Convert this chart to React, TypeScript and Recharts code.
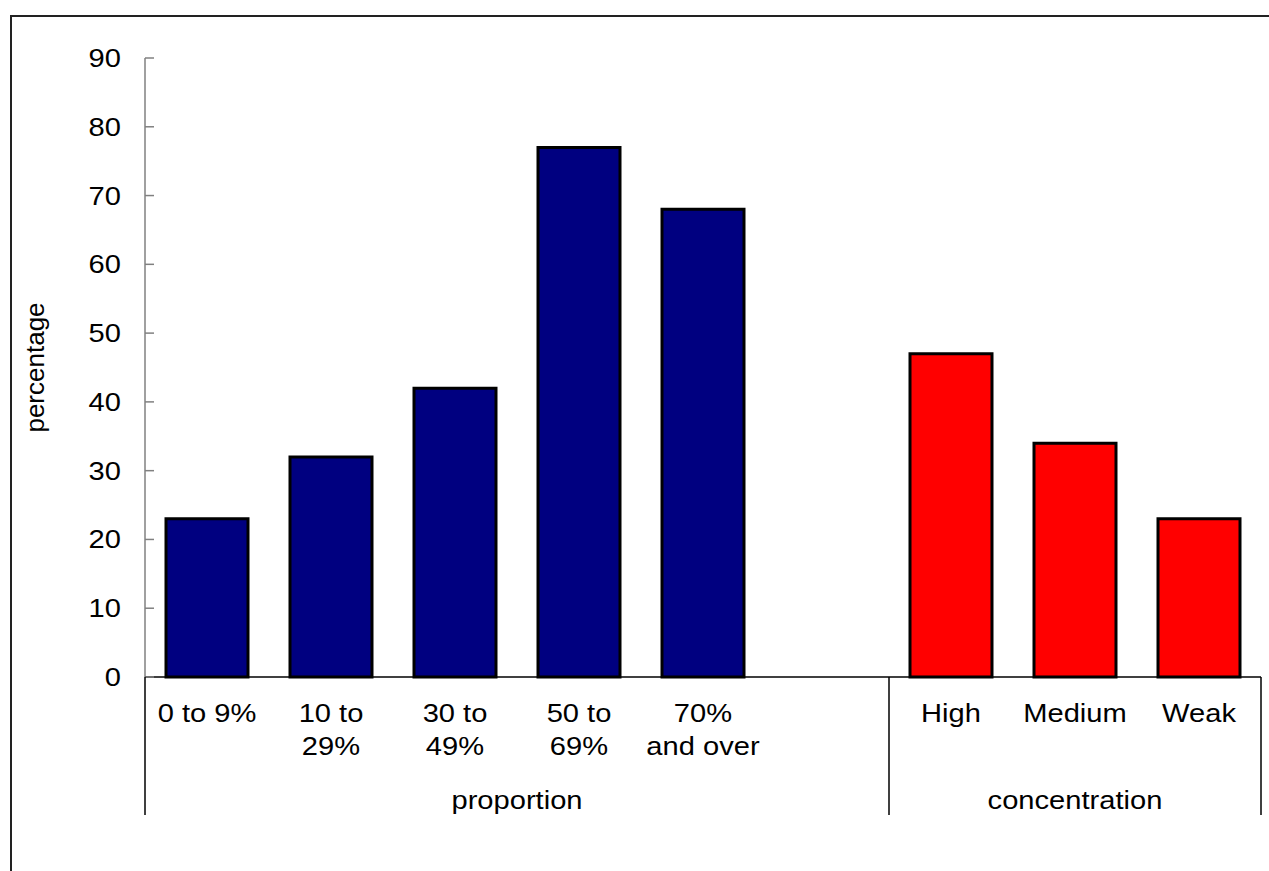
import React from 'react';
import { BarChart, Bar, XAxis, YAxis, Cell } from 'recharts';

const categories = ['0 to 9%', '10 to\n29%', '30 to\n49%', '50 to\n69%', '70%\nand over', '', 'High', 'Medium', 'Weak'];
const values = [23, 32, 42, 77, 68, null, 47, 34, 23];
const groupNames = ['proportion', 'concentration'];
const groupSpans = [6, 3];
const yTicks = [0, 10, 20, 30, 40, 50, 60, 70, 80, 90];

const groupColors = ['#000080', '#FF0000'];

// which group each category belongs to
const groupIndex: number[] = [];
groupSpans.forEach((span, g) => {
  for (let i = 0; i < span; i++) groupIndex.push(g);
});

const data = categories.map((cat, i) => ({ cat, value: values[i], group: groupIndex[i] }));

const FONT = '"Liberation Sans", Arial, sans-serif';
const FS = 26;
const STRETCH = 1.12; // the original text is a bit wider than plain Arial

const WideText = ({ x, y, anchor = 'middle', children }: any) => (
  <text
    transform={`translate(${x},${y}) scale(${STRETCH},1)`}
    x={0}
    y={0}
    textAnchor={anchor}
    dominantBaseline="central"
    fontSize={FS}
    fontFamily={FONT}
    fill="#000"
  >
    {children}
  </text>
);

const YTick = (props: any) => {
  const { x, y, payload } = props;
  return (
    <g>
      <line x1={x} x2={x + 9} y1={y} y2={y} stroke="#808080" strokeWidth={1.5} />
      <WideText x={x - 24} y={y} anchor="end">{payload.value}</WideText>
    </g>
  );
};

const CategoryTick = (props: any) => {
  const { x, y, payload, index } = props;
  const half = payload.offset ?? 62;
  const lines = String(payload.value).split('\n');
  let start = 0;
  let g = 0;
  for (; g < groupSpans.length; g++) {
    if (index < start + groupSpans[g]) break;
    start += groupSpans[g];
  }
  const isFirst = index === start;
  const isLast = index === categories.length - 1;
  return (
    <g>
      {lines.map((ln, k) => (
        <WideText key={k} x={x} y={y + 36 + k * 33}>{ln}</WideText>
      ))}
      {isFirst && (
        <>
          <line x1={x - half} x2={x - half} y1={y} y2={y + 138} stroke="#000" strokeWidth={1.5} />
          <WideText x={x - half + groupSpans[g] * half} y={y + 123}>{groupNames[g]}</WideText>
        </>
      )}
      {isLast && <line x1={x + half} x2={x + half} y1={y} y2={y + 138} stroke="#000" strokeWidth={1.5} />}
    </g>
  );
};

const YTitle = (props: any) => {
  const { viewBox } = props;
  const cy = viewBox ? viewBox.y + viewBox.height / 2 : 367;
  return (
    <text
      transform={`translate(35,${cy}) rotate(-90)`}
      x={0}
      y={0}
      textAnchor="middle"
      dominantBaseline="central"
      fontSize={FS}
      fontFamily={FONT}
      fill="#000"
    >
      percentage
    </text>
  );
};

export default function App() {
  return (
    <div style={{ position: 'fixed', left: 0, top: 0, width: 1269, height: 871, overflow: 'hidden', background: '#fff' }}>
      <div style={{ position: 'absolute', left: 10, top: 15, width: 1400, height: 1000, border: '2px solid #222' }} />
      <div style={{ position: 'absolute', left: 0, top: 0 }}>
        <BarChart width={1269} height={871} data={data} margin={{ top: 58, right: 8, left: 0, bottom: 56 }} barSize={82}>
          <YAxis
            width={145}
            domain={[0, 90]}
            ticks={yTicks}
            interval={0}
            tickSize={0}
            tickMargin={0}
            tickLine={false}
            axisLine={{ stroke: '#808080', strokeWidth: 1.5 }}
            tick={<YTick />}
            label={<YTitle />}
          />
          <XAxis
            dataKey="cat"
            height={138}
            interval={0}
            tickSize={0}
            tickMargin={0}
            tickLine={false}
            axisLine={{ stroke: '#000', strokeWidth: 1.5 }}
            tick={<CategoryTick />}
          />
          <Bar dataKey="value" stroke="#000" strokeWidth={3} isAnimationActive={false}>
            {data.map((d, i) => (
              <Cell key={i} fill={groupColors[d.group]} />
            ))}
          </Bar>
        </BarChart>
      </div>
    </div>
  );
}
